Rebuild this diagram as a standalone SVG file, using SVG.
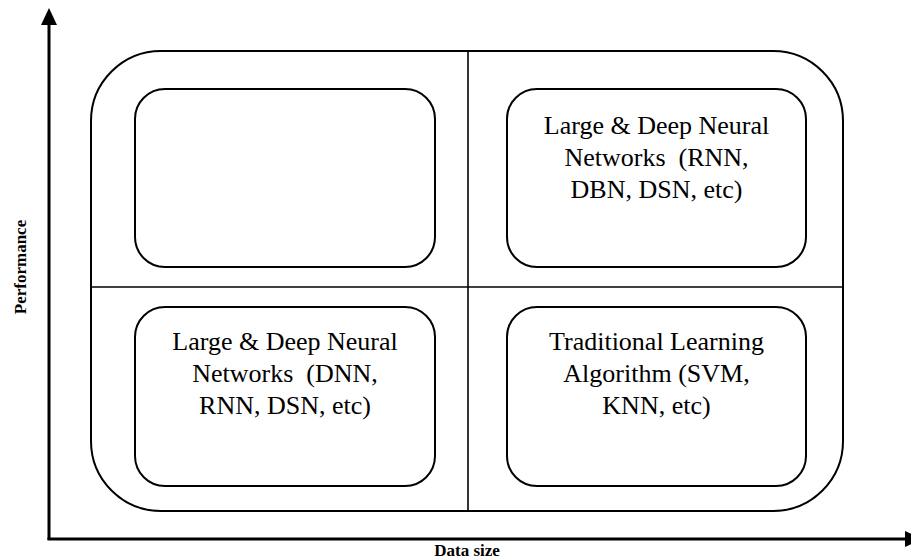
<svg xmlns="http://www.w3.org/2000/svg" width="911" height="560" viewBox="0 0 911 560">
<style>
.box{fill:none;stroke:#000;stroke-width:2}
.div{stroke:#000;stroke-width:1.6;fill:none}
.axis{stroke:#000;stroke-width:3;fill:none}
.head{fill:#000}
.t{font-family:"Liberation Serif","Times New Roman",serif;font-size:26px;fill:#000;text-anchor:middle}
.lab{font-family:"Liberation Serif","Times New Roman",serif;font-size:17px;font-weight:bold;fill:#000;text-anchor:middle}
</style>
<rect width="911" height="560" fill="#fff"/>
<g id="connectors">
<line class="axis" x1="49" y1="22" x2="49" y2="540"/>
<polygon class="head" points="49,8 41,25 57,25"/>
<line class="axis" x1="47.5" y1="539" x2="907" y2="539"/>
<polygon class="head" points="922,539 905,531 905,547"/>
</g>
<g id="frame">
<rect class="box" x="91" y="51" width="752" height="460" rx="70" ry="70"/>
<line class="div" x1="468" y1="51" x2="468" y2="511"/>
<line class="div" x1="91" y1="287" x2="843" y2="287"/>
</g>
<g id="node-top-left">
<rect class="box" x="135" y="89" width="300" height="178" rx="30" ry="30"/>
</g>
<g id="node-top-right">
<rect class="box" x="507" y="89" width="299" height="178" rx="30" ry="30"/>
<text class="t" x="656.5" y="134">Large &amp; Deep Neural</text>
<text class="t" x="656.5" y="166" xml:space="preserve">Networks  (RNN,</text>
<text class="t" x="656.5" y="198">DBN, DSN, etc)</text>
</g>
<g id="node-bottom-left">
<rect class="box" x="135" y="307" width="300" height="179" rx="30" ry="30"/>
<text class="t" x="285" y="350">Large &amp; Deep Neural</text>
<text class="t" x="285" y="382" xml:space="preserve">Networks  (DNN,</text>
<text class="t" x="285" y="414">RNN, DSN, etc)</text>
</g>
<g id="node-bottom-right">
<rect class="box" x="507" y="307" width="299" height="179" rx="30" ry="30"/>
<text class="t" x="656.5" y="350">Traditional Learning</text>
<text class="t" x="656.5" y="382">Algorithm (SVM,</text>
<text class="t" x="656.5" y="414">KNN, etc)</text>
</g>
<g id="labels">
<text class="lab" x="467" y="556">Data size</text>
<text class="lab" transform="translate(26,267) rotate(-90)">Performance</text>
</g>
</svg>
